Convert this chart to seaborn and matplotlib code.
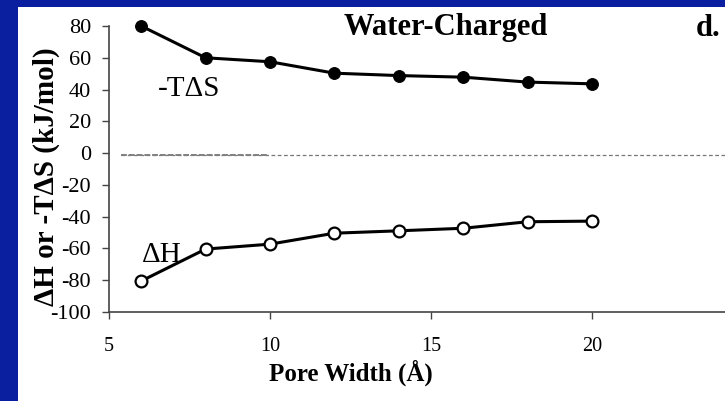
import matplotlib
matplotlib.use("Agg")
import matplotlib.pyplot as plt
import seaborn as sns
import pandas as pd
from matplotlib.patches import Rectangle

pore_width = [6, 8, 10, 12, 14, 16, 18, 20]
neg_TdS = [80, 60, 57.5, 50.3, 48.8, 47.8, 44.7, 43.6]
dH = [-80.5, -60.4, -57.3, -50.4, -48.9, -47.3, -43.2, -42.8]
x_ticks = [5, 10, 15, 20]
y_ticks = [80, 60, 40, 20, 0, -20, -40, -60, -80, -100]

sns.set_style("white")
plt.rcParams['font.family'] = ['Liberation Serif', 'DejaVu Serif']
plt.rcParams['text.color'] = 'black'
plt.rcParams['axes.labelcolor'] = 'black'
plt.rcParams['xtick.color'] = 'black'
plt.rcParams['ytick.color'] = 'black'

fig = plt.figure(figsize=(7.25, 4.01), dpi=100)
fig.patch.set_facecolor('#0a1ea0')
fig.patches.append(Rectangle((18/725, 0), 1 - 18/725, 1 - 7/401,
                             transform=fig.transFigure, facecolor='white',
                             edgecolor='none', zorder=-10))

ax = fig.add_axes([109/725, 1 - 312/401, (725 - 109)/725 + 0.01, (312 - 26)/401])
ax.set_facecolor('none')

df = pd.DataFrame({"x": pore_width, "s": neg_TdS, "h": dH})
sns.lineplot(data=df, x="x", y="s", ax=ax, color='black', lw=2.2,
             marker='o', markersize=8.5, markerfacecolor='black',
             markeredgecolor='black', zorder=3, clip_on=False)
sns.lineplot(data=df, x="x", y="h", ax=ax, color='black', lw=2.2,
             marker='o', markersize=8.5, markerfacecolor='white',
             markeredgecolor='black', markeredgewidth=1.6, zorder=3, clip_on=False)

ax.plot([5.37, 30], [-1.5, -1.5], color='#777777', lw=0.9, ls=(0, (3, 2)), zorder=1)
ax.plot([5.37, 9.9], [-1.5, -1.5], color='#808080', lw=1.4, ls=(0, (3, 1)), zorder=1)

xmax = 5 + (725 - 109) / 32.2 + 0.01 * 725 / 32.2
ax.set_xlim(5, xmax)
ax.set_ylim(-100, 80)
ax.set_xticks(x_ticks)
ax.set_yticks(y_ticks)
ax.set_xticklabels([str(t) for t in x_ticks], fontsize=14.5)
ax.set_yticklabels([str(t) for t in y_ticks], fontsize=16)
ax.tick_params(axis='both', which='major', bottom=True, left=True,
               direction='out', length=5, width=1, color='#444444')
ax.tick_params(axis='y', pad=8)
ax.tick_params(axis='x', pad=13)
for side in ['top', 'right']:
    ax.spines[side].set_visible(False)
for side in ['left', 'bottom']:
    ax.spines[side].set_color('#444444')
    ax.spines[side].set_linewidth(1.2)

ax.set_xlabel("")
ax.set_ylabel("")
fig.text(351/725, 1 - 373/401, "Pore Width (Å)", fontsize=18, fontweight='bold',
         ha='center', va='center')
fig.text(46/725, 1 - 177/401, "ΔH or -TΔS (kJ/mol)", fontsize=21, fontweight='bold',
         ha='center', va='center', rotation=90)

fig.text(446/725, 1 - 28/401, "Water-Charged", fontsize=22, fontweight='bold',
         ha='center', va='center')
fig.text(708/725, 1 - 28/401, "d.", fontsize=22, fontweight='bold',
         ha='center', va='center')
fig.text(158/725, 1 - 89/401, "-TΔS", fontsize=21, ha='left', va='center')
fig.text(142/725, 1 - 255/401, "ΔH", fontsize=21, ha='left', va='center')

fig.savefig("out.png", dpi=100, facecolor=fig.get_facecolor())
